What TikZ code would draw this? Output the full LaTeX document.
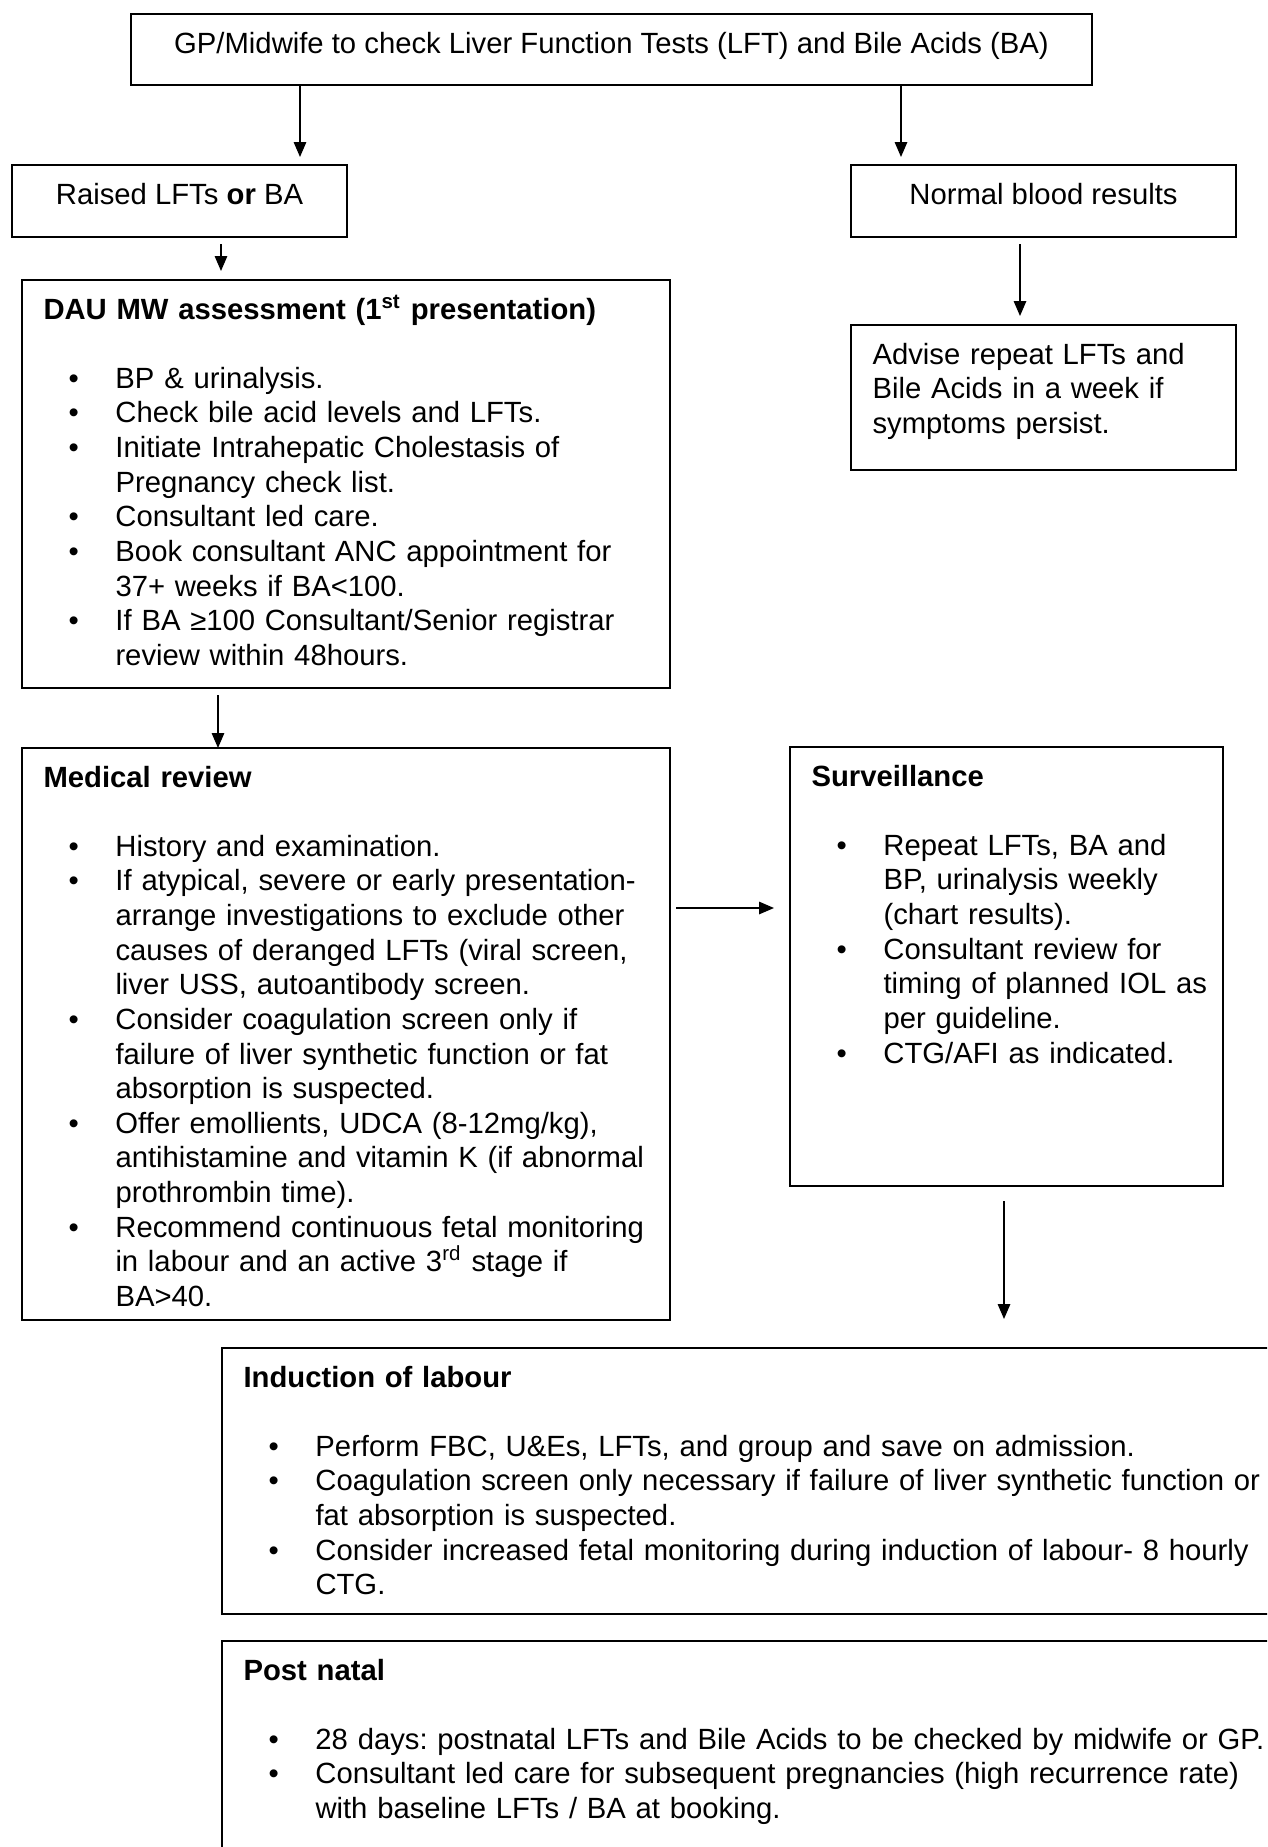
\documentclass[tikz,border=0pt]{standalone}
\usepackage{fontspec}
\setmainfont{Liberation Sans}
\usetikzlibrary{arrows.meta, calc}
\frenchspacing

\tikzstyle{panel} = [rectangle, draw=black, line width=0.9pt, anchor=north west, outer sep=0pt, inner sep=0pt]
\tikzstyle{body} = [anchor=base west, inner sep=0pt, text width=480pt, align=left, font=\fontsize{11.7}{13.85}\selectfont]
\tikzstyle{caption} = [anchor=base, inner sep=0pt, font=\fontsize{11.7}{13.85}\selectfont]
\tikzstyle{arrow} = [line width=0.6pt, -{Triangle[length=6pt, width=5pt]}]

\newcommand{\bul}[1]{\par\noindent\hangindent=28.8pt\hangafter=1\hspace*{10pt}\makebox[18.8pt][l]{\textbullet}#1\par}
\newcommand{\heading}[1]{\textbf{#1}\par\vspace{13.85pt}}

\begin{document}
\begin{tikzpicture}[x=0.4pt, y=-0.4pt]

\useasboundingbox (0,0) rectangle (1267,1847);
\clip (0,0) rectangle (1267,1847);

\node (gp) [panel, minimum width=384.4pt, minimum height=28.4pt] at (131,14) {};
\node (raised) [panel, minimum width=134pt, minimum height=28.8pt] at (12,165) {};
\node (normal) [panel, minimum width=154pt, minimum height=28.8pt] at (851,165) {};
\node (dau) [panel, minimum width=259.2pt, minimum height=163.2pt] at (22,280) {};
\node (advise) [panel, minimum width=154pt, minimum height=58pt] at (851,325) {};
\node (medical) [panel, minimum width=259.2pt, minimum height=228.8pt] at (22,748) {};
\node (surv) [panel, minimum width=173.2pt, minimum height=175.6pt] at (790,747) {};
\node (iol) [panel, minimum width=440pt, minimum height=106.4pt] at (222,1348) {};
\node (post) [panel, minimum width=440pt, minimum height=120pt] at (222,1641) {};

\node (gptxt) [caption] at ($(gp.north)+(0,39)$) {GP/Midwife to check Liver Function Tests (LFT) and Bile Acids (BA)};
\node (raisedtxt) [caption] at ($(raised.north)+(0,39)$) {Raised LFTs \textbf{or} BA};
\node (normaltxt) [caption] at ($(normal.north)+(0,39)$) {Normal blood results};
\node (advisetxt) [body] at ($(advise.north west)+(21,39)$) {Advise repeat LFTs and\\ Bile Acids in a week if\\ symptoms persist.};

\node (dautxt) [body] at ($(dau.north west)+(21,39)$) {\heading{DAU MW assessment (1\textsuperscript{st} presentation)}
\bul{BP \& urinalysis.}
\bul{Check bile acid levels and LFTs.}
\bul{Initiate Intrahepatic Cholestasis of\newline Pregnancy check list.}
\bul{Consultant led care.}
\bul{Book consultant ANC appointment for\newline 37+ weeks if BA<100.}
\bul{If BA ≥100 Consultant/Senior registrar\newline review within 48hours.}};

\node (medicaltxt) [body] at ($(medical.north west)+(21,39)$) {\heading{Medical review}
\bul{History and examination.}
\bul{If atypical, severe or early presentation-\newline arrange investigations to exclude other\newline causes of deranged LFTs (viral screen,\newline liver USS, autoantibody screen.}
\bul{Consider coagulation screen only if\newline failure of liver synthetic function or fat\newline absorption is suspected.}
\bul{Offer emollients, UDCA (8-12mg/kg),\newline antihistamine and vitamin K (if abnormal\newline prothrombin time).}
\bul{Recommend continuous fetal monitoring\newline in labour and an active 3\textsuperscript{rd} stage if\newline BA>40.}};

\node (survtxt) [body] at ($(surv.north west)+(21,39)$) {\heading{Surveillance}
\bul{Repeat LFTs, BA and\newline BP, urinalysis weekly\newline (chart results).}
\bul{Consultant review for\newline timing of planned IOL as\newline per guideline.}
\bul{CTG/AFI as indicated.}};

\node (ioltxt) [body] at ($(iol.north west)+(21,39)$) {\heading{Induction of labour}
\bul{Perform FBC, U\&Es, LFTs, and group and save on admission.}
\bul{Coagulation screen only necessary if failure of liver synthetic function or\newline fat absorption is suspected.}
\bul{Consider increased fetal monitoring during induction of labour- 8 hourly\newline CTG.}};

\node (posttxt) [body] at ($(post.north west)+(21,39)$) {\heading{Post natal}
\bul{28 days: postnatal LFTs and Bile Acids to be checked by midwife or GP.}
\bul{Consultant led care for subsequent pregnancies (high recurrence rate)\newline with baseline LFTs / BA at booking.}};

\draw [arrow] ($(gp.south west)+(169,0)$) -- ($(raised.north west)+(288,-8)$);
\draw [arrow] ($(gp.south west)+(770,0)$) -- ($(normal.north west)+(50,-8)$);
\draw [arrow] ($(raised.south west)+(209,7)$) -- ($(dau.north west)+(199,-9)$);
\draw [arrow] ($(normal.south west)+(169,7)$) -- ($(advise.north west)+(169,-9)$);
\draw [arrow] ($(dau.south west)+(196,7)$) -- ($(medical.north west)+(196,0)$);
\draw [arrow] ($(medical.north east)+(6,160)$) -- ($(surv.north west)+(-16,161)$);
\draw [arrow] ($(surv.south west)+(214,15)$) -- ($(iol.north west)+(782,-29)$);

\end{tikzpicture}
\end{document}
